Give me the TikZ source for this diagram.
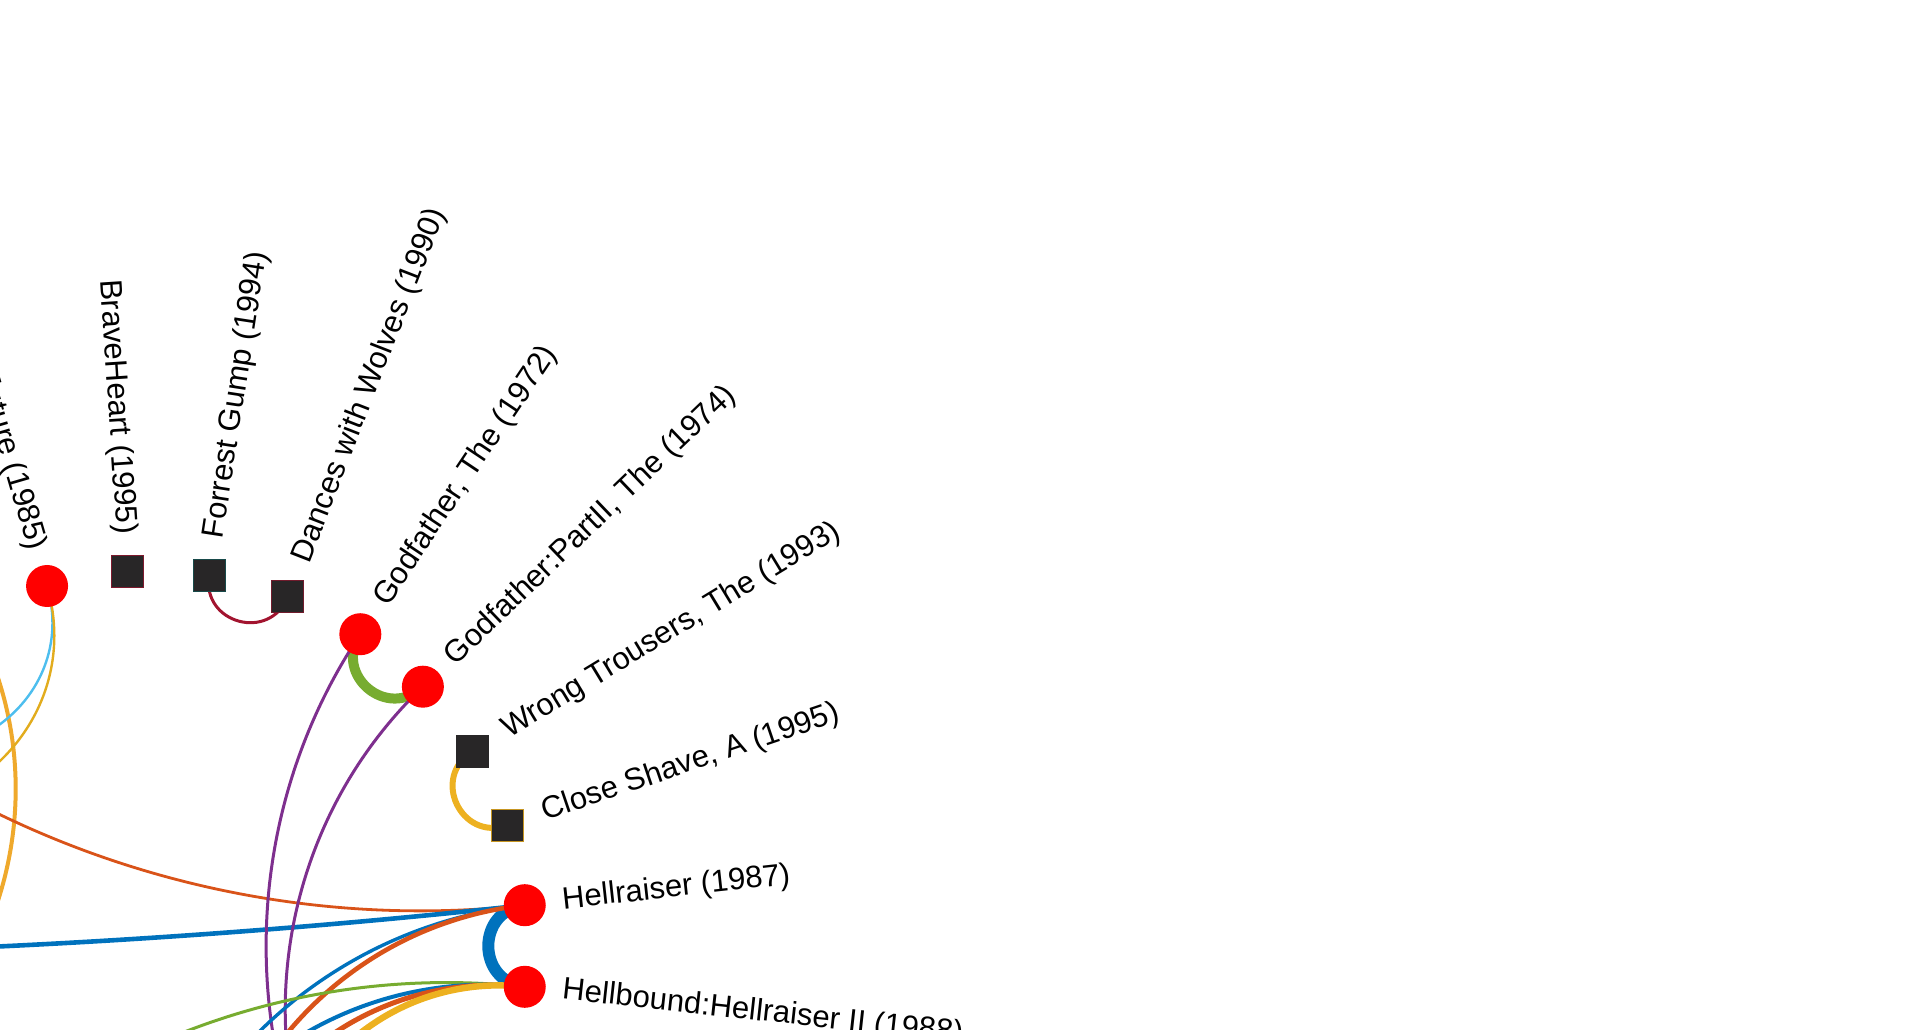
\documentclass[tikz,border=0pt]{standalone}
\usepackage{fontspec}
\setmainfont{Liberation Sans}
\usetikzlibrary{backgrounds}
\definecolor{mblue}{HTML}{0072BD}
\definecolor{morange}{HTML}{D95319}
\definecolor{myellow}{HTML}{EDB120}
\definecolor{mpurple}{HTML}{7E2F8E}
\definecolor{mgreen}{HTML}{77AC30}
\definecolor{mcyan}{HTML}{4DBEEE}
\definecolor{mred}{HTML}{A2142F}
\definecolor{mgold}{HTML}{EFA92C}
\definecolor{sqfill}{HTML}{282627}
% link = circular arc orthogonal to the layout circle
\newcommand\olink[5][]{%
  \pgfmathsetmacro\olOut{#3+180}%
  \pgfmathsetmacro\olIn{#5+180}%
  \pgfmathsetmacro\olD{abs(#3-#5)}%
  \pgfmathsetmacro\olL{0.8514/(cos(45-\olD/4))^2}%
  \draw[#1] (#2.center) to[out=\olOut, in=\olIn, looseness=\olL] (#4.center);%
}
\begin{document}
\begin{tikzpicture}[x=0.5pt,y=0.5pt,
  rnode/.style={circle, fill=red, minimum size=21pt, inner sep=0pt},
  snode/.style={rectangle, fill=sqfill, draw=#1, line width=0.5pt, minimum size=16pt, inner sep=0pt},
  snode/.default=sqfill,
  lab/.style={inner sep=0pt, text=black, font=\fontsize{15.5}{18}\selectfont},
  lnk/.style={line cap=round}]
\useasboundingbox (0,0) rectangle (1920,1029);
\coordinate (cen) at (152,83);

% nodes on the circle (radius 375)
\node[rnode] (A) at ([shift={(106.25:375)}]cen) {};
\node[snode=mred!70!sqfill] (B) at ([shift={(93.75:375)}]cen) {};
\node[snode=teal!40!sqfill] (C) at ([shift={(81.25:375)}]cen) {};
\node[snode=mred!60!sqfill] (D) at ([shift={(68.75:375)}]cen) {};
\node[rnode] (E) at ([shift={(56.25:375)}]cen) {};
\node[rnode] (F) at ([shift={(43.75:375)}]cen) {};
\node[snode] (G) at ([shift={(31.25:375)}]cen) {};
\node[snode=myellow!80!sqfill] (H) at ([shift={(18.75:375)}]cen) {};
\node[rnode] (I) at ([shift={(6.25:375)}]cen) {};
\node[rnode] (J) at ([shift={(-6.25:375)}]cen) {};

% off-picture ends of links
\coordinate (q118) at ([shift={(118.75:375)}]cen);
\coordinate (q143) at ([shift={(143.75:375)}]cen);
\coordinate (q156) at ([shift={(156.25:375)}]cen);
\coordinate (q181) at ([shift={(181.25:375)}]cen);
\coordinate (q206) at ([shift={(206.25:375)}]cen);
\coordinate (m56) at ([shift={(-56.25:375)}]cen);
\coordinate (m68) at ([shift={(-68.75:375)}]cen);
\coordinate (m81) at ([shift={(-81.25:375)}]cen);
\coordinate (m93) at ([shift={(-93.75:375)}]cen);
\coordinate (m131) at ([shift={(-131.25:375)}]cen);

% labels (radius 412.5)
\node[lab, anchor=east, rotate=-73.75] (lA) at ([shift={(106.25:412.5)}]cen) {Back to the Future (1985)};
\node[lab, anchor=east, rotate=-86.25] (lB) at ([shift={(93.75:412.5)}]cen) {BraveHeart (1995)};
\node[lab, anchor=west, rotate=81.25] (lC) at ([shift={(81.25:412.5)}]cen) {Forrest Gump (1994)};
\node[lab, anchor=west, rotate=68.75] (lD) at ([shift={(68.75:412.5)}]cen) {Dances with Wolves (1990)};
\node[lab, anchor=west, rotate=56.25] (lE) at ([shift={(56.25:412.5)}]cen) {Godfather, The (1972)};
\node[lab, anchor=west, rotate=43.75] (lF) at ([shift={(43.75:412.5)}]cen) {Godfather:PartII, The (1974)};
\node[lab, anchor=west, rotate=31.25] (lG) at ([shift={(31.25:412.5)}]cen) {Wrong Trousers, The (1993)};
\node[lab, anchor=west, rotate=18.75] (lH) at ([shift={(18.75:412.5)}]cen) {Close Shave, A (1995)};
\node[lab, anchor=west, rotate=6.25] (lI) at ([shift={(6.25:412.5)}]cen) {Hellraiser (1987)};
\node[lab, anchor=west, rotate=-6.25] (lJ) at ([shift={(-6.25:412.5)}]cen) {Hellbound:Hellraiser II (1988)};

\begin{pgfonlayer}{background}
% links between neighbours
\olink[lnk, mred, line width=1.5pt]{C}{81.25}{D}{68.75}
\olink[lnk, mgreen, line width=5pt]{E}{56.25}{F}{43.75}
\olink[lnk, myellow, line width=3pt]{G}{31.25}{H}{18.75}
\olink[lnk, mblue, line width=6pt]{I}{6.25}{J}{-6.25}
% links leaving the picture
\olink[lnk, mgold, line width=2pt]{q118}{118.75}{q206}{206.25}
\olink[lnk, mcyan, line width=1.2pt]{A}{106.25}{q143}{143.75}
\olink[lnk, myellow!90!olive, line width=1.2pt]{A}{106.25}{q156}{156.25}
\olink[lnk, morange, line width=1.4pt]{I}{6.25}{q143}{143.75}
\olink[lnk, mblue, line width=2.3pt]{I}{6.25}{q181}{181.25}
\olink[lnk, mpurple, line width=1.5pt]{E}{56.25}{m56}{-56.25}
\olink[lnk, mpurple, line width=1.5pt]{F}{43.75}{m56}{-56.25}
\olink[lnk, mblue, line width=1.7pt]{I}{6.25}{m93}{-93.75}
\olink[lnk, morange, line width=2.3pt]{I}{6.25}{m81}{-81.25}
\olink[lnk, mgreen, line width=1.5pt]{J}{-6.25}{m131}{-131.25}
\olink[lnk, mblue, line width=2pt]{J}{-6.25}{m93}{-93.75}
\olink[lnk, morange, line width=2.5pt]{J}{-6.25}{m81}{-81.25}
\olink[lnk, myellow, line width=3.2pt]{J}{-6.25}{m68}{-68.75}
\end{pgfonlayer}
\end{tikzpicture}
\end{document}
